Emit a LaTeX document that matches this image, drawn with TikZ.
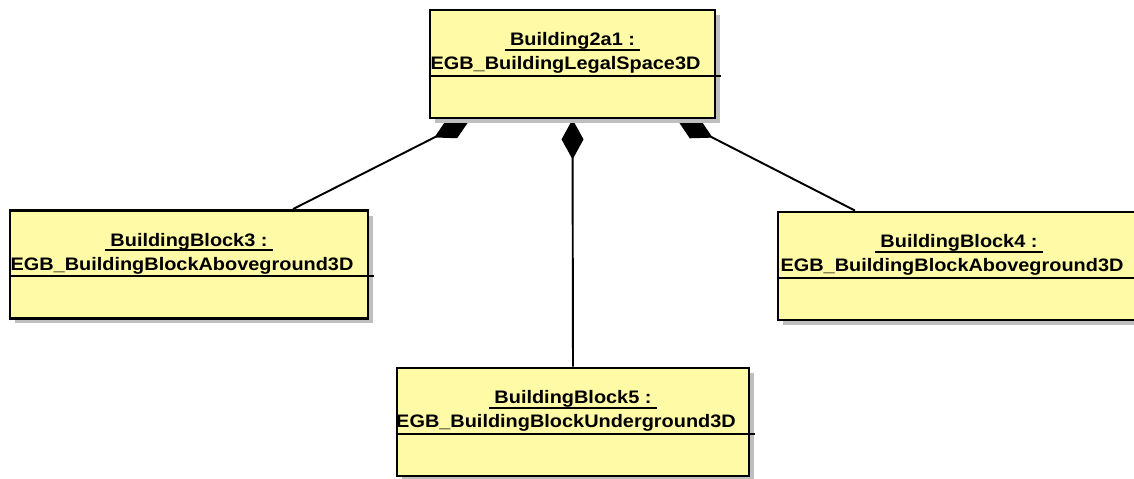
\documentclass[tikz,border=0pt]{standalone}
\usepackage{fontspec}
\setmainfont{Liberation Sans}
\usepackage{graphicx}
\usetikzlibrary{arrows.meta,calc,shadows,backgrounds}
\definecolor{roseyellow}{RGB}{255,250,165}
\newcommand{\umltxt}[1]{\scalebox{1.1}[1]{#1}}

\begin{document}
\begin{tikzpicture}[x=0.02cm,y=-0.02cm,
    objbox/.style={draw,line width=1.6pt,fill=roseyellow,minimum height=2.16cm,
      drop shadow={shadow xshift=0.1cm,shadow yshift=-0.1cm,fill=black!25,opacity=1}},
    objtxt/.style={inner sep=0pt,anchor=base,font=\fontsize{10.3}{12}\selectfont\bfseries},
    sepline/.style={line width=1.1pt},
    compo/.style={line width=1.1pt,-{Diamond[length=0.8cm,width=0.44cm]}}]
\useasboundingbox (0,0) rectangle (1134,479);

% object boxes
\node[objbox,minimum width=5.7cm] (bld) at (572.5,64) {};
\node[objbox,minimum width=7.16cm] (bb3) at (189,264.5) {};
\node[objbox,minimum width=7.24cm] (bb4) at (959,266) {};
\node[objbox,minimum width=7.04cm] (bb5) at (573,422) {};

% names and classes
\node[objtxt] (bldname) at ($(bld.north)+(0,37)$) {\umltxt{Building2a1 :}};
\node[objtxt] (bldclass) at ($(bld.north)+(-7,61)$) {\umltxt{EGB\_BuildingLegalSpace3D}};
\node[objtxt] (bb3name) at ($(bb3.north)+(0,37)$) {\umltxt{BuildingBlock3 :}};
\node[objtxt] (bb3class) at ($(bb3.north)+(-7,61)$) {\umltxt{EGB\_BuildingBlockAboveground3D}};
\node[objtxt] (bb4name) at ($(bb4.north)+(0,37)$) {\umltxt{BuildingBlock4 :}};
\node[objtxt] (bb4class) at ($(bb4.north)+(-7,61)$) {\umltxt{EGB\_BuildingBlockAboveground3D}};
\node[objtxt] (bb5name) at ($(bb5.north)+(0,37)$) {\umltxt{BuildingBlock5 :}};
\node[objtxt] (bb5class) at ($(bb5.north)+(-7,61)$) {\umltxt{EGB\_BuildingBlockUnderground3D}};

% underlines and compartments
\foreach \b in {bld,bb3,bb4,bb5}{
  \draw[sepline] ($(\b name.base west)+(-5,4)$) -- ($(\b name.base east)+(5,4)$);
  \draw[sepline] ($(\b.north west)+(0,67)$) -- ($(\b.north east)+(5,67)$);
}

% compositions
\begin{pgfonlayer}{background}
\draw[compo] ([xshift=2.08cm]bb3.north) -- ([xshift=-2.05cm]bld.south);
\draw[compo] (bb5.north) -- (bld.south);
\draw[compo] ([xshift=-2.08cm]bb4.north) -- ([xshift=2.09cm]bld.south);
\end{pgfonlayer}
\end{tikzpicture}
\end{document}
